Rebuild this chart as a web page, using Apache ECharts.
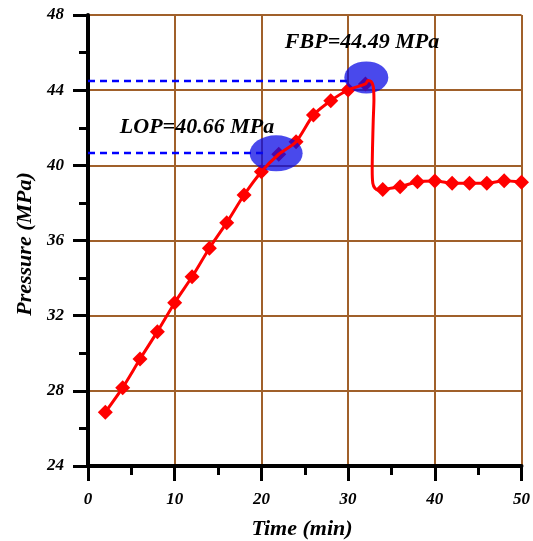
<!DOCTYPE html>
<html>
<head>
<meta charset="utf-8">
<script src="https://cdn.jsdelivr.net/npm/echarts@6/dist/echarts.min.js"></script>
<style>
html,body{margin:0;padding:0;background:#fff;}
#chart{width:533px;height:541px;}
</style>
</head>
<body>
<div id="chart"></div>
<script>
// ---- data ----
const markerTime = [2,4,6,8,10,12,14,16,18,20,22,24,26,28,30,32,34,36,38,40,42,44,46,48,50];
const markerPressure = [26.86,28.17,29.69,31.15,32.69,34.07,35.59,36.95,38.42,39.66,40.59,41.26,42.68,43.44,44.01,44.33,38.72,38.86,39.13,39.17,39.05,39.05,39.05,39.18,39.10];
// unmarked points of the fitted curve during the breakdown drop (between t=32 and t=34)
const dropTime = [32.3,32.65,32.9,32.98,32.9,32.82,32.78,32.85,33.1,33.5];
const dropPressure = [44.52,44.46,44.2,43.5,42.4,41.0,39.8,39.05,38.78,38.68];
const lopLevel = 40.66;
const fbpLevel = 44.49;
const lopDashTime = [0, 20.5];
const fbpDashTime = [0, 30];
const ellipseTime = [21.7, 32.1];
const ellipsePressure = [40.64, 44.68];
const xTicks = [0,10,20,30,40,50];
const yTicks = [24,28,32,36,40,44,48];
const labels = {lop: 'LOP=40.66 MPa', fbp: 'FBP=44.49 MPa', x: 'Time (min)', y: 'Pressure (MPa)'};

// ---- build series data ----
const markerData = markerTime.map((t, i) => [t, markerPressure[i]]);
const dropAt = markerTime.indexOf(32);
const curveData = markerData.slice(0, dropAt + 1)
  .concat(dropTime.map((t, i) => [t, dropPressure[i]]))
  .concat(markerData.slice(dropAt + 1));
const ellipseData = ellipseTime.map((t, i) => [t, ellipsePressure[i]]);
const ellipseSizes = [[26.5, 18], [22, 16]];

const FONT = "'Liberation Serif','Times New Roman',serif";
const GRID = '#a0602a';

const chart = echarts.init(document.getElementById('chart'), null, {renderer: 'canvas'});
chart.setOption({
  animation: false,
  backgroundColor: '#fff',
  grid: {left: 88, right: 11, top: 15, bottom: 75, containLabel: false},
  xAxis: {
    type: 'value', min: xTicks[0], max: xTicks[xTicks.length-1], interval: 10,
    axisLine: {onZero: false, lineStyle: {color: '#000', width: 4}},
    axisTick: {show: true, inside: false, length: 15, lineStyle: {color: '#000', width: 3}},
    minorTick: {show: true, splitNumber: 2, length: 9, lineStyle: {color: '#000', width: 3}},
    splitLine: {show: true, lineStyle: {color: GRID, width: 2}},
    axisLabel: {margin: 25, color: '#000', fontFamily: FONT, fontStyle: 'italic', fontWeight: 'bold', fontSize: 17}
  },
  yAxis: {
    type: 'value', min: yTicks[0], max: yTicks[yTicks.length-1], interval: 4,
    axisLine: {onZero: false, lineStyle: {color: '#000', width: 4}},
    axisTick: {show: true, inside: false, length: 15, lineStyle: {color: '#000', width: 3}},
    minorTick: {show: true, splitNumber: 2, length: 9, lineStyle: {color: '#000', width: 3}},
    splitLine: {show: true, lineStyle: {color: GRID, width: 2}},
    axisLabel: {margin: 24, color: '#000', fontFamily: FONT, fontStyle: 'italic', fontWeight: 'bold', fontSize: 17}
  },
  series: [
    {
      type: 'line', name: 'lop', z: 1, symbol: 'none', silent: true,
      data: lopDashTime.map(t => [t, lopLevel]),
      lineStyle: {color: '#0000ff', width: 2.5, type: [7, 5]}
    },
    {
      type: 'line', name: 'fbp', z: 1, symbol: 'none', silent: true,
      data: fbpDashTime.map(t => [t, fbpLevel]),
      lineStyle: {color: '#0000ff', width: 2.5, type: [7, 5]}
    },
    {
      type: 'scatter', name: 'markers', z: 2,
      data: markerData, symbol: 'diamond', symbolSize: 15,
      itemStyle: {color: '#ff0000', opacity: 1}
    },
    {
      type: 'custom', name: 'ellipses', z: 3,
      data: ellipseData,
      renderItem: function (params, api) {
        const p = api.coord([api.value(0), api.value(1)]);
        const s = ellipseSizes[params.dataIndex];
        return {
          type: 'circle',
          x: p[0], y: p[1], scaleX: s[0], scaleY: s[1],
          shape: {cx: 0, cy: 0, r: 1},
          style: {fill: 'rgba(10,10,230,0.74)'}
        };
      }
    },
    {
      type: 'line', name: 'curve', z: 4, symbol: 'none', smooth: 0.25,
      data: curveData,
      lineStyle: {color: '#ff0000', width: 3}
    }
  ],
  graphic: [
    {type: 'text', x: 25, y: 244, rotation: Math.PI/2, z: 10,
     style: {text: labels.y, fill: '#000', font: 'italic bold 22px ' + FONT, align: 'center', verticalAlign: 'middle'}},
    {type: 'text', x: 302, y: 529, z: 10,
     style: {text: labels.x, fill: '#000', font: 'italic bold 22px ' + FONT, align: 'center', verticalAlign: 'middle'}},
    {type: 'text', x: 197, y: 127, z: 10,
     style: {text: labels.lop, fill: '#000', font: 'italic bold 22px ' + FONT, align: 'center', verticalAlign: 'middle'}},
    {type: 'text', x: 362, y: 42, z: 10,
     style: {text: labels.fbp, fill: '#000', font: 'italic bold 22px ' + FONT, align: 'center', verticalAlign: 'middle'}}
  ]
});
</script>
</body>
</html>
